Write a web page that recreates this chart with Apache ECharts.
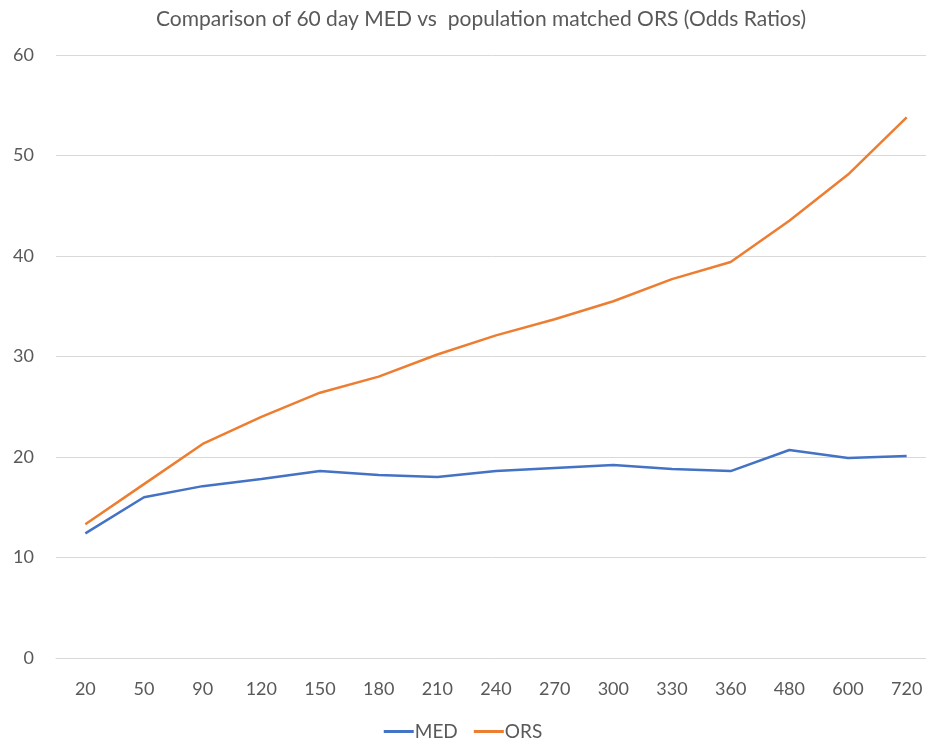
<!DOCTYPE html>
<html>
<head>
<meta charset="utf-8">
<script src="https://cdn.jsdelivr.net/npm/echarts@6/dist/echarts.min.js"></script>
<style>
html,body{margin:0;padding:0;background:#fff;}
#c{width:926px;height:744px;}
</style>
</head>
<body>
<div id="c"></div>
<script>
const categories = ['20','50','90','120','150','180','210','240','270','300','330','360','480','600','720'];
const medValues = [12.4, 16.0, 17.1, 17.8, 18.6, 18.2, 18.0, 18.6, 18.9, 19.2, 18.8, 18.6, 20.7, 19.9, 20.1];
const orsValues = [13.3, 17.3, 21.3, 24.0, 26.4, 28.0, 30.2, 32.1, 33.7, 35.5, 37.7, 39.4, 43.5, 48.1, 53.8];
const yTicks = {min: 0, max: 60, interval: 10};

const font = "Lato, 'Open Sans', sans-serif";
const chart = echarts.init(document.getElementById('c'));
chart.setOption({
  animation: false,
  backgroundColor: '#ffffff',
  title: {
    text: 'Comparison of 60 day MED vs  population matched ORS (Odds Ratios)',
    left: 476, top: 4, textAlign: 'center',
    textStyle: {fontFamily: font, fontSize: 21, fontWeight: 'normal', color: '#595959'}
  },
  legend: {
    bottom: -2, left: 'center',
    itemWidth: 30, itemHeight: 3, itemGap: 16,
    icon: 'rect',
    textStyle: {fontFamily: font, fontSize: 19, color: '#595959', padding: [0,0,0,-4]},
    data: ['MED', 'ORS']
  },
  grid: {left: 56, width: 880, top: 55, bottom: 86, containLabel: false, outerBoundsMode: 'none'},
  xAxis: {
    type: 'category',
    data: categories,
    boundaryGap: true,
    axisLine: {show: true, lineStyle: {color: '#d9d9d9'}},
    axisTick: {show: false},
    axisLabel: {fontFamily: font, fontSize: 18, color: '#595959', margin: 22}
  },
  yAxis: {
    type: 'value',
    min: yTicks.min, max: yTicks.max, interval: yTicks.interval,
    axisLine: {show: false},
    axisTick: {show: false},
    splitLine: {lineStyle: {color: '#d9d9d9', width: 1}},
    axisLabel: {fontFamily: font, fontSize: 18, color: '#595959', margin: 22}
  },
  series: [
    {name: 'MED', type: 'line', data: medValues, symbol: 'none',
     lineStyle: {color: '#4472C4', width: 2.5}, itemStyle: {color: '#4472C4'}},
    {name: 'ORS', type: 'line', data: orsValues, symbol: 'none',
     lineStyle: {color: '#ED7D31', width: 2.5}, itemStyle: {color: '#ED7D31'}}
  ]
});
</script>
</body>
</html>
